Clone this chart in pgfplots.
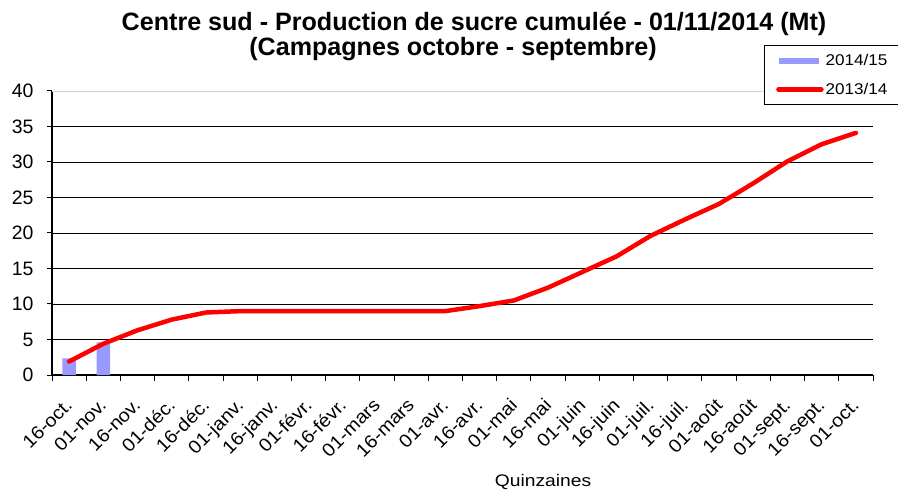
\documentclass[border=0pt]{standalone}
\usepackage{fontspec}
\setmainfont{Liberation Sans}
\newfontfamily\stretchfont{Liberation Sans}[FakeStretch=1.15]
\newfontfamily\tickfont{Liberation Sans}[FakeStretch=1.08]
\newfontfamily\legfont{Liberation Sans}[FakeStretch=1.1]
\usepackage{pgfplots}
\pgfplotsset{compat=1.18}
\definecolor{barblue}{HTML}{9999FF}
\begin{document}
\begin{tikzpicture}
\useasboundingbox (0,0) rectangle (898bp,490bp);
\begin{axis}[
  at={(52bp,115bp)}, anchor=south west,
  scale only axis, width=821bp, height=284bp,
  xmin=-0.5, xmax=23.5, ymin=0, ymax=40,
  axis x line=bottom, axis y line=left,
  axis line style={-, line width=1.6bp, black},
  tick align=outside,
  xtick={0,...,23},
  xticklabels={16-oct.,01-nov.,16-nov.,01-déc.,16-déc.,01-janv.,16-janv.,01-févr.,16-févr.,01-mars,16-mars,01-avr.,16-avr.,01-mai,16-mai,01-juin,16-juin,01-juil.,16-juil.,01-août,16-août,01-sept.,16-sept.,01-oct.},
  major x tick style={draw=none},
  minor xtick={-0.5,0.5,...,23.5},
  minor x tick style={black, line width=1bp},
  minor tick length=6bp,
  ytick={0,5,...,35},
  extra y ticks={40},
  extra y tick labels={40},
  extra y tick style={grid style={gray!35, line width=0.8bp}},
  major tick length=5bp,
  y tick style={black, line width=1bp},
  ymajorgrids,
  grid style={black, line width=0.8bp},
  /pgf/number format/assume math mode=true,
  yticklabel style={font=\fontsize{19.5}{22}\selectfont, xshift=-10bp},
  xticklabel style={font=\tickfont\fontsize{18.5}{21}\selectfont, inner sep=0pt, xshift=-5bp, yshift=-17bp, rotate=45, anchor=north east},
  legend style={at={(axis description cs:0.867,1.162)}, anchor=north west,
    draw=black, line width=0.8bp, font=\legfont\fontsize{15.6}{18}\selectfont,
    row sep=12bp, inner xsep=12bp, inner ysep=7bp},
  legend cell align=left,
  clip=false,
]
\addplot[ybar, bar width=13.5bp, bar shift=0pt, fill=barblue, draw=none,
  legend image code/.code={\fill[barblue] (2bp,-3bp) rectangle (42bp,3bp);}]
  coordinates {(0,2.35) (1,4.6)};
\addlegendentry{2014/15}
\addplot[red, line width=4.5bp, line join=round, line cap=round,
  legend image code/.code={\draw[red, line width=4.5bp, line cap=round] (1bp,0) -- (44bp,0);}]
  coordinates {
  (0,1.9) (1,4.4) (2,6.3) (3,7.8) (4,8.8) (5,9.0) (6,9.0) (7,9.0) (8,9.0)
  (9,9.0) (10,9.0) (11,9.0) (12,9.7) (13,10.5) (14,12.3) (15,14.5)
  (16,16.7) (17,19.6) (18,21.9) (19,24.1) (20,27.0) (21,30.1) (22,32.5) (23,34.1)};
\addlegendentry{2013/14}
\end{axis}
\node[anchor=base, font=\bfseries\fontsize{25.2}{28}\selectfont, inner sep=0pt] at (474bp,459.3bp) {Centre sud - Production de sucre cumulée - 01/11/2014 (Mt)};
\node[anchor=base, font=\bfseries\fontsize{25.2}{28}\selectfont, inner sep=0pt] at (453bp,434bp) {(Campagnes octobre - septembre)};
\node[anchor=base, font=\stretchfont\fontsize{16.8}{20}\selectfont, inner sep=0pt] at (543bp,3.5bp) {Quinzaines};
\end{tikzpicture}
\end{document}
